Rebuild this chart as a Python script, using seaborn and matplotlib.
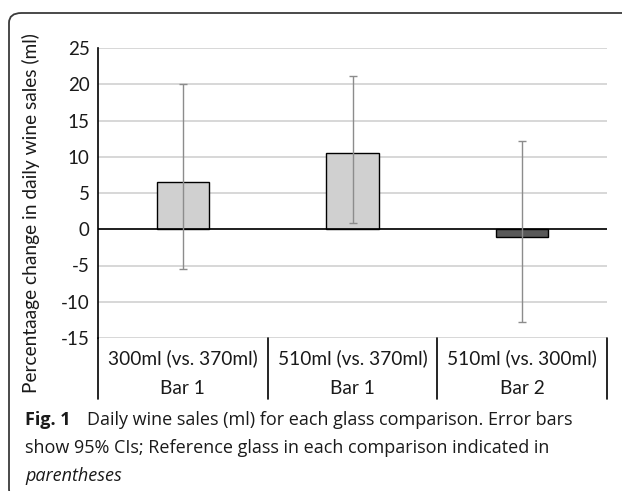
import matplotlib
matplotlib.use("Agg")
import matplotlib.pyplot as plt
import seaborn as sns
import pandas as pd
from matplotlib.patches import FancyBboxPatch

# Data
comparisons = ["300ml (vs. 370ml)", "510ml (vs. 370ml)", "510ml (vs. 300ml)"]
bar_groups = ["Bar 1", "Bar 1", "Bar 2"]
pct_change = [6.5, 10.5, -1.1]
ci_lower = [-5.5, 0.8, -12.8]
ci_upper = [20.0, 21.1, 12.2]
y_ticks = [-15, -10, -5, 0, 5, 10, 15, 20, 25]
bar_colors = ["#d0d0d0", "#d0d0d0", "#595959"]

sns.set_theme(style="white")
plt.rcParams['font.family'] = ['Lato', 'DejaVu Sans']

W, H = 622, 491
fig = plt.figure(figsize=(W / 100, H / 100), dpi=100)

# outer rounded frame (open on the right)
frame = FancyBboxPatch((9 / W, -8 / H), 1.2, (H - 13 + 8) / H,
                       boxstyle="round,pad=0,rounding_size=0.02",
                       transform=fig.transFigure, fill=False,
                       edgecolor="#3a3a3a", linewidth=1.3)
fig.patches.append(frame)

left, right, top, bottom = 98, 607, 48, 338
ax = fig.add_axes([left / W, 1 - bottom / H, (right - left) / W, (bottom - top) / H])

df = pd.DataFrame({"comparison": comparisons, "change": pct_change})
sns.barplot(data=df, x="comparison", y="change", hue="comparison",
            palette=bar_colors, width=0.31, edgecolor="black", linewidth=1.0,
            legend=False, ax=ax, zorder=3)

xs = list(range(len(comparisons)))
yerr = [[v - lo for v, lo in zip(pct_change, ci_lower)],
        [hi - v for v, hi in zip(pct_change, ci_upper)]]
ax.errorbar(xs, pct_change, yerr=yerr, fmt="none", ecolor="#8c8c8c",
            elinewidth=1.0, capsize=2.6, capthick=1.0, zorder=4)

ax.set_xlim(-0.5, len(comparisons) - 0.5)
ax.set_ylim(-15, 25)
ax.set_yticks(y_ticks)
ax.set_yticklabels([str(t) for t in y_ticks], fontsize=13.5, color="#1a1a1a")
ax.tick_params(axis="y", length=0, pad=6)
ax.set_xticks([])
ax.set_xlabel("")
ax.set_ylabel("")
ax.grid(axis="y", color="#d4d4d4", linewidth=1.3, zorder=0)
ax.set_axisbelow(True)
ax.axhline(0, color="black", linewidth=1.2, zorder=3)
for s in ["top", "right", "bottom"]:
    ax.spines[s].set_visible(False)
ax.spines["left"].set_color("black")
ax.spines["left"].set_linewidth(1.2)

# category table under the axis
tr = ax.get_xaxis_transform()
depth = (399 - bottom) / (bottom - top)
for xv in [-0.5, 0.5, 1.5, 2.5]:
    ax.plot([xv, xv], [0, -depth], transform=tr, color="black",
            linewidth=1.2, clip_on=False)
row1 = -(358 - bottom) / (bottom - top)
row2 = -(388 - bottom) / (bottom - top)
for i, (c, g) in enumerate(zip(comparisons, bar_groups)):
    ax.text(i, row1, c, transform=tr, ha="center", va="center",
            fontsize=13.8, color="#1a1a1a")
    ax.text(i, row2, g, transform=tr, ha="center", va="center",
            fontsize=13.8, color="#1a1a1a")

fig.text(31 / W, 1 - 213 / H, "Percentaage change in daily wine sales (ml)",
         rotation=90, ha="center", va="center", fontsize=13.8, color="#1a1a1a")

# caption
cap_x = 25 / W
cap_fs = 13
fig.text(cap_x, 1 - 420 / H, "Fig. 1", fontsize=cap_fs, fontweight="bold",
         ha="left", va="center", color="#1a1a1a", family="Open Sans")
fig.text(87 / W, 1 - 420 / H,
         "Daily wine sales (ml) for each glass comparison. Error bars",
         fontsize=cap_fs, ha="left", va="center", color="#1a1a1a", family="Open Sans")
fig.text(cap_x, 1 - 448 / H,
         "show 95% CIs; Reference glass in each comparison indicated in",
         fontsize=cap_fs, ha="left", va="center", color="#1a1a1a", family="Open Sans")
fig.text(cap_x, 1 - 476 / H, "parentheses", fontsize=cap_fs, style="italic",
         ha="left", va="center", color="#1a1a1a", family="Open Sans")

fig.savefig("out.png", dpi=100)
